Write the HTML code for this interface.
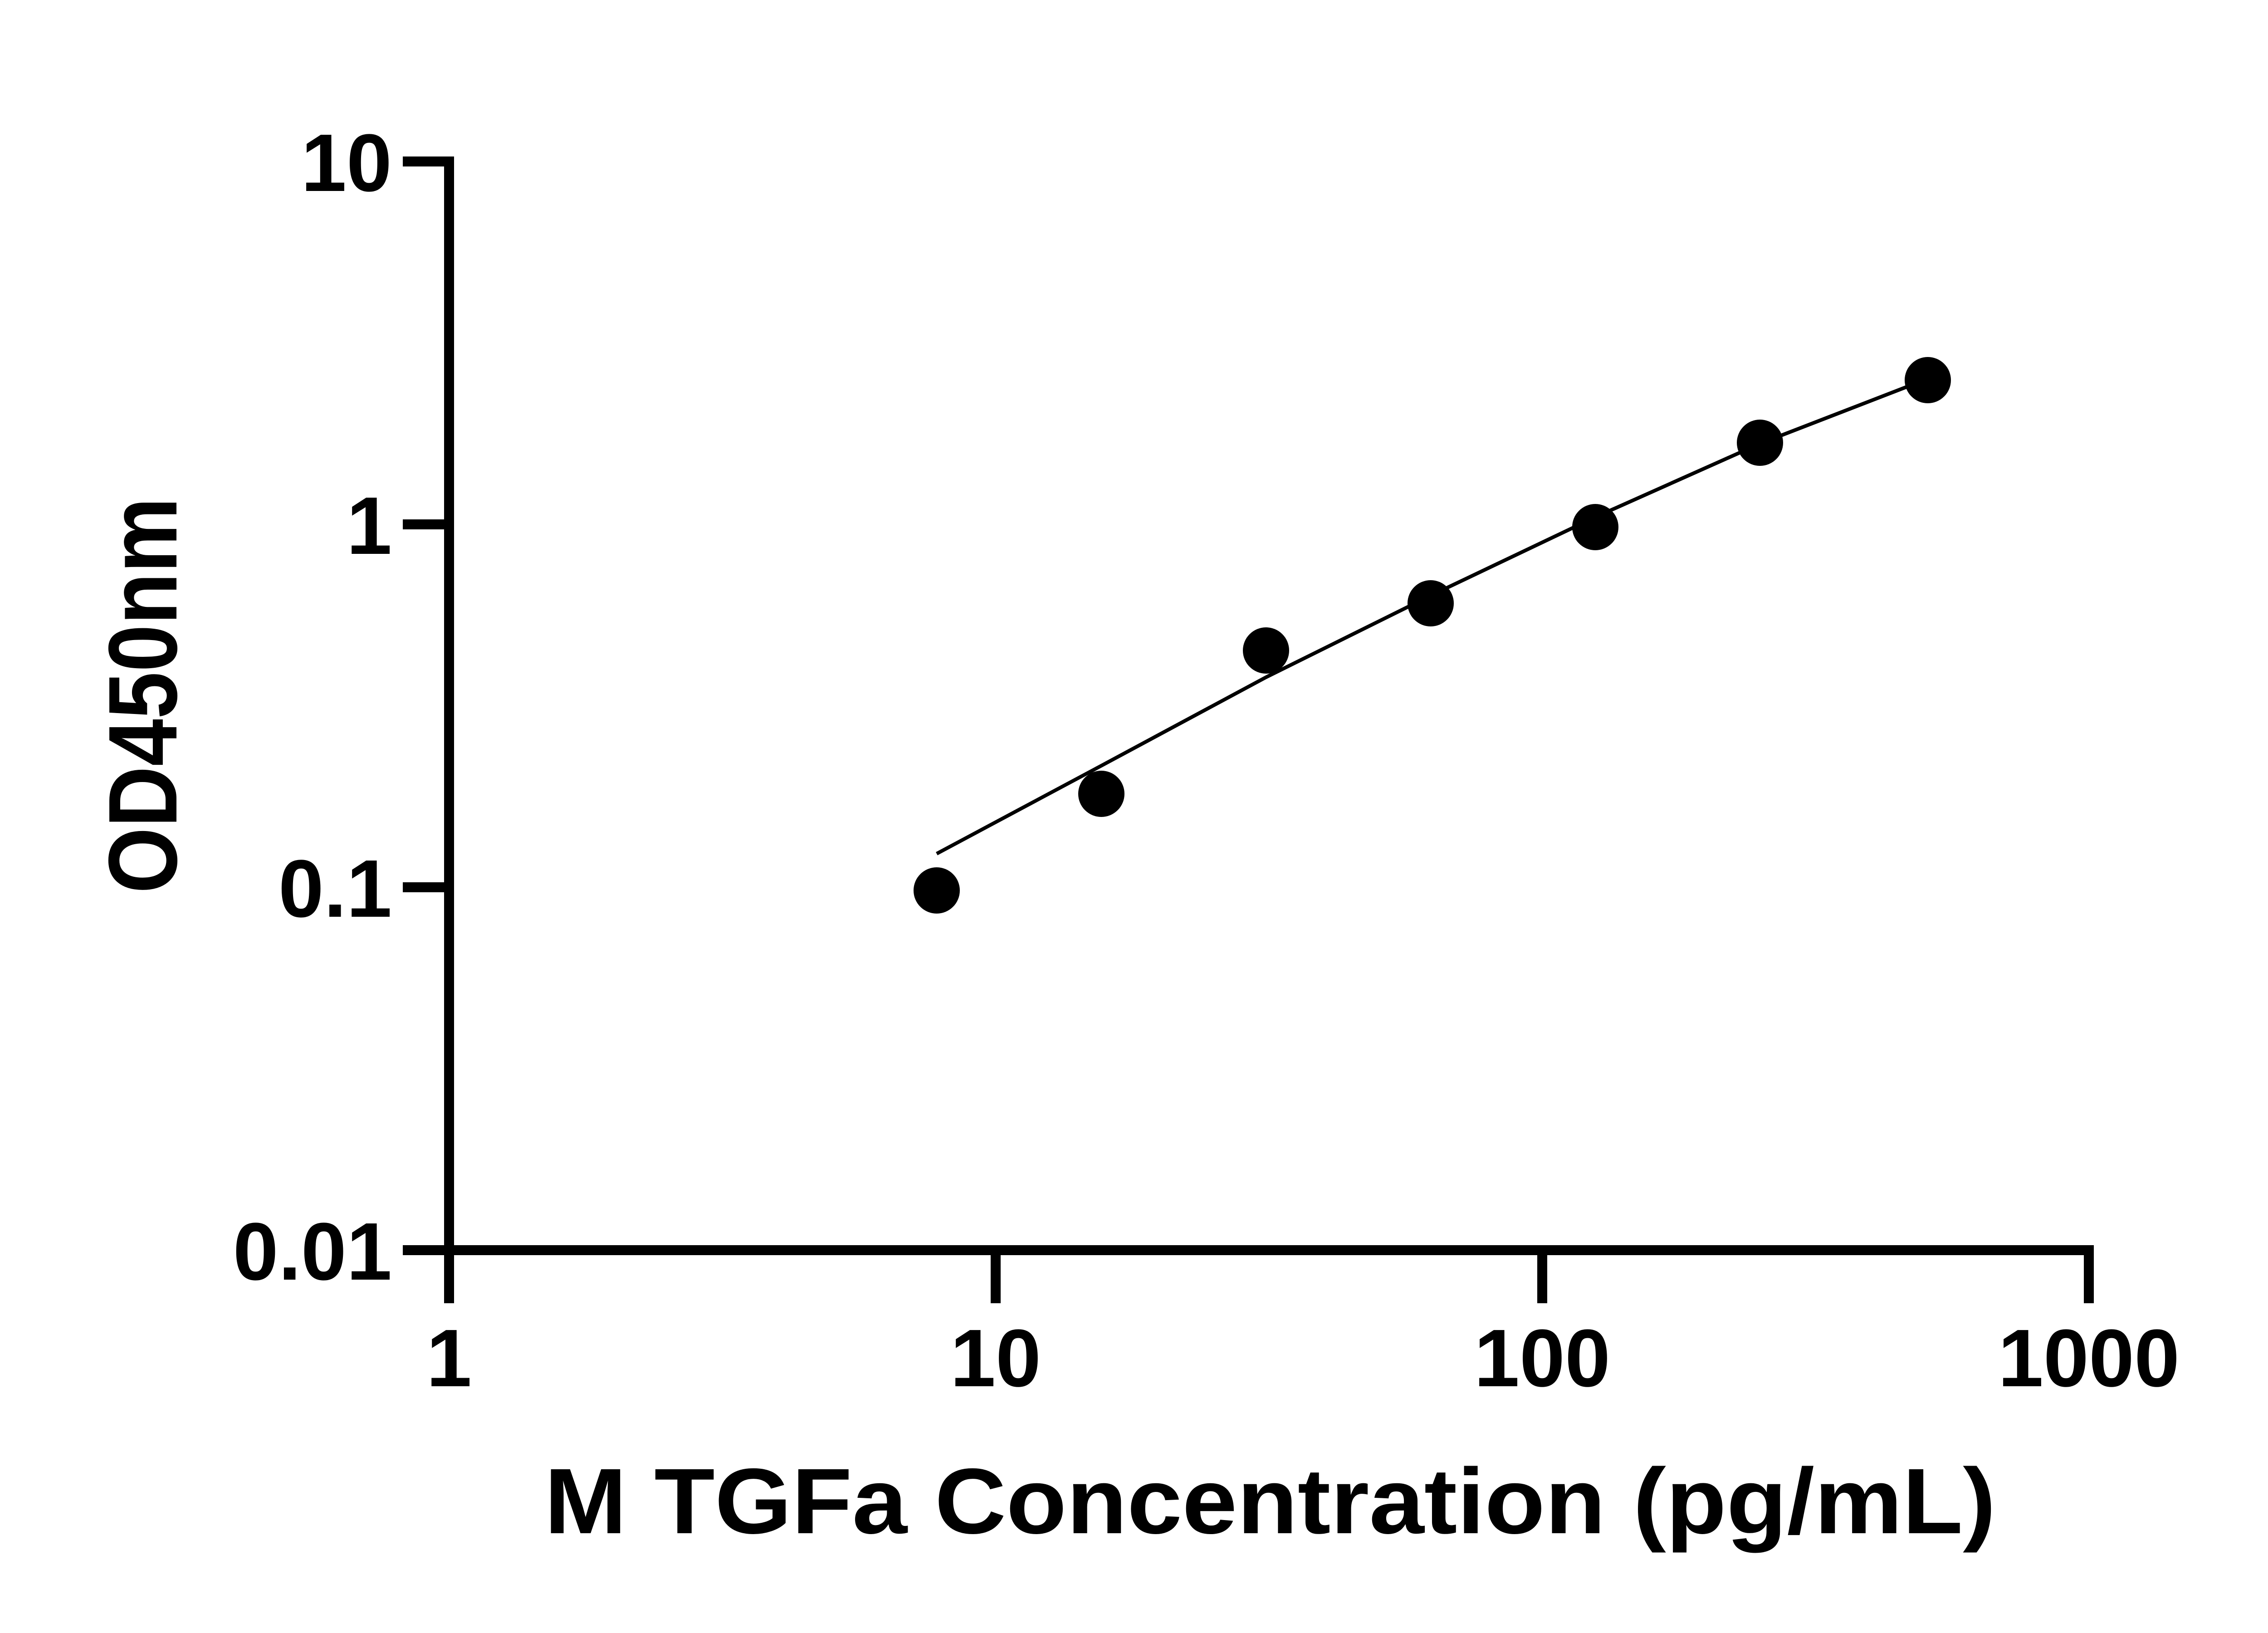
<!DOCTYPE html>
<html><head><style>html,body{margin:0;padding:0;background:#fff}svg{display:block}</style></head>
<body>
<svg width="5142" height="3600" viewBox="0 0 5142 3600" xmlns="http://www.w3.org/2000/svg">
<rect width="5142" height="3600" fill="#fff"/>
<g stroke="#000" stroke-width="22" fill="none">
<line x1="990" y1="345" x2="990" y2="2873"/>
<line x1="979" y1="2756" x2="4605" y2="2756"/>
<line x1="888" y1="356" x2="1001" y2="356"/>
<line x1="888" y1="1156" x2="990" y2="1156"/>
<line x1="888" y1="1956" x2="990" y2="1956"/>
<line x1="888" y1="2756" x2="990" y2="2756"/>
<line x1="2195" y1="2756" x2="2195" y2="2873"/>
<line x1="3400" y1="2756" x2="3400" y2="2873"/>
<line x1="4605" y1="2745" x2="4605" y2="2873"/>
</g>
<g font-family="Liberation Sans, sans-serif" font-weight="bold" font-size="180" fill="#000">
<text x="864" y="421" text-anchor="end">10</text>
<text x="864" y="1221" text-anchor="end">1</text>
<text x="864" y="2021" text-anchor="end">0.1</text>
<text x="864" y="2821" text-anchor="end">0.01</text>
<text x="990" y="3056" text-anchor="middle">1</text>
<text x="2195" y="3056" text-anchor="middle">10</text>
<text x="3400" y="3056" text-anchor="middle">100</text>
<text x="4605" y="3056" text-anchor="middle">1000</text>
</g>
<text x="2800" y="3380" text-anchor="middle" font-family="Liberation Sans, sans-serif" font-weight="bold" font-size="205" textLength="3200" lengthAdjust="spacingAndGlyphs">M TGFa Concentration (pg/mL)</text>
<text transform="translate(389,1533) rotate(-90)" text-anchor="middle" font-family="Liberation Sans, sans-serif" font-weight="bold" font-size="215" textLength="873" lengthAdjust="spacingAndGlyphs">OD450nm</text>
<polyline fill="none" stroke="#000" stroke-width="8" points="2065,1882 2428,1688 2791,1493 3154,1313 3517,1140 3880,978 4242,838"/>
<g fill="#000">
<circle cx="2065" cy="1963" r="51"/>
<circle cx="2428" cy="1750" r="51"/>
<circle cx="2791" cy="1434" r="51"/>
<circle cx="3154" cy="1330" r="51"/>
<circle cx="3517" cy="1162" r="51"/>
<circle cx="3880" cy="976" r="51"/>
<circle cx="4250" cy="838" r="51"/>
</g>
</svg>
</body></html>
